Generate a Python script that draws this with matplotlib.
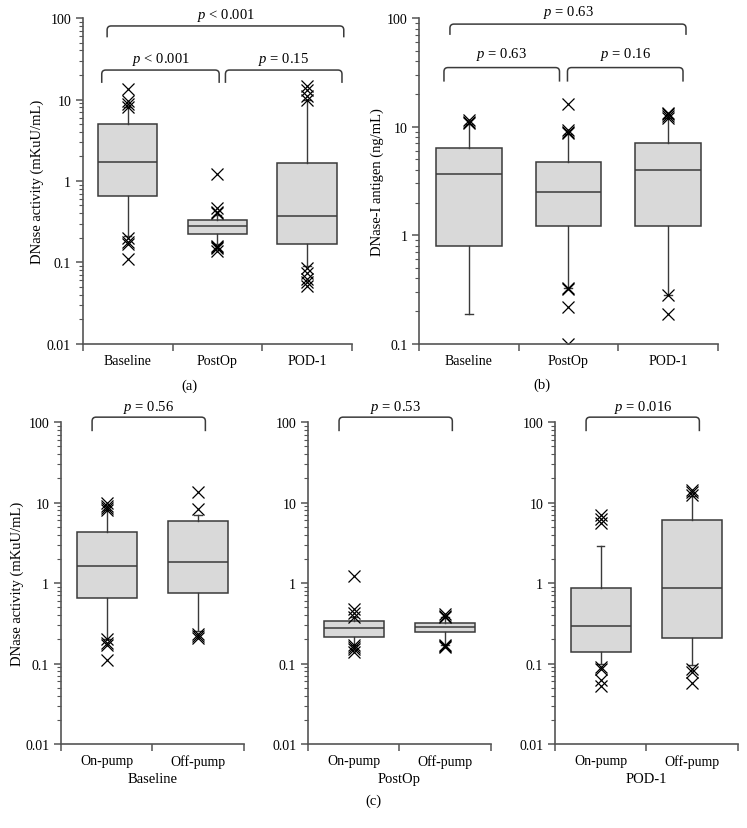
import numpy as np
import matplotlib
matplotlib.use("Agg")
import matplotlib.pyplot as plt
from matplotlib.path import Path
from matplotlib.patches import PathPatch

plt.rcParams["font.family"] = ["Liberation Serif", "DejaVu Serif"]
plt.rcParams["mathtext.fontset"] = "custom"
plt.rcParams["mathtext.rm"] = "Liberation Serif"
plt.rcParams["mathtext.it"] = "Liberation Serif:italic"

# ---- data ----
groups_ab = ["Baseline", "PostOp", "POD-1"]
groups_c = ["On-pump", "Off-pump"]

# (a) DNase activity (mKuU/mL)
a_q1 = [0.66, 0.225, 0.167]
a_med = [1.70, 0.278, 0.37]
a_q3 = [4.96, 0.33, 1.65]
a_lo = [0.21, 0.17, 0.09]
a_hi = [8.0, 0.38, 10.0]
a_fliers = [
    [13.4, 9.5, 8.8, 8.2, 0.20, 0.18, 0.17, 0.11],
    [1.22, 0.46, 0.42, 0.40, 0.16, 0.155, 0.15, 0.14],
    [14.5, 13.0, 11.0, 10.0, 0.085, 0.075, 0.062, 0.057, 0.052],
]

# (b) DNase-I antigen (ng/mL)
b_q1 = [0.80, 1.23, 1.21]
b_med = [3.7, 2.5, 4.0]
b_q3 = [6.3, 4.7, 7.1]
b_lo = [0.19, 0.33, 0.28]
b_hi = [10.5, 8.5, 12.0]
b_fliers = [
    [11.5, 11.0, 10.8],
    [16.2, 9.3, 9.0, 8.8, 0.33, 0.32, 0.22, 0.10],
    [13.5, 13.0, 12.5, 12.0, 0.28, 0.19],
]

# (c) DNase activity by pump type, per time point
c_titles = ["Baseline", "PostOp", "POD-1"]
c_q1 = [[0.65, 0.75], [0.211, 0.245], [0.138, 0.206]]
c_med = [[1.64, 1.84], [0.279, 0.288], [0.295, 0.875]]
c_q3 = [[4.34, 5.9], [0.337, 0.32], [0.875, 6.0]]
c_lo = [[0.20, 0.25], [0.17, 0.17], [0.10, 0.095]]
c_hi = [[8.0, 7.0], [0.38, 0.38], [2.9, 12.0]]
c_fliers = [
    [[9.8, 9.0, 8.5, 8.0, 0.20, 0.18, 0.17, 0.11], [13.5, 8.2, 0.23, 0.22, 0.21]],
    [[1.22, 0.47, 0.42, 0.38, 0.17, 0.16, 0.15, 0.14], [0.41, 0.39, 0.38, 0.17, 0.165, 0.16]],
    [[7.0, 6.3, 5.5, 0.09, 0.085, 0.063, 0.052], [14.5, 13.5, 12.5, 0.085, 0.078, 0.058]],
]
c_pvals = ["$p$ = 0.56", "$p$ = 0.53", "$p$ = 0.016"]

# brackets: (x0, x1, y_top, y_leg, text, y_text)
a_brackets = [(-0.23, 2.41, 80, 58, "$p$ < 0.001", 110),
              (-0.29, 1.02, 23, 16, "$p$ < 0.001", 32),
              (1.09, 2.39, 23, 16, "$p$ = 0.15", 32)]
b_brackets = [(-0.19, 2.18, 88, 70, "$p$ = 0.63", 115),
              (-0.25, 0.91, 35, 26, "$p$ = 0.63", 47),
              (0.99, 2.15, 35, 26, "$p$ = 0.16", 47)]

EDGE = "#3a3a3a"
FACE = "#d9d9d9"
SPINE = "#555555"


def stats(q1, med, q3, lo, hi, fliers, labels):
    return [dict(q1=a, med=m, q3=b, whislo=l, whishi=h, fliers=f, label=n)
            for a, m, b, l, h, f, n in zip(q1, med, q3, lo, hi, fliers, labels)]


def draw_box(ax, st, ylim):
    n = len(st)
    ax.bxp(st, positions=range(n), widths=0.66, capwidths=0.08, patch_artist=True,
           boxprops=dict(facecolor=FACE, edgecolor=EDGE, linewidth=1.1),
           medianprops=dict(color=EDGE, linewidth=1.1),
           whiskerprops=dict(color=EDGE, linewidth=1.0),
           capprops=dict(color=EDGE, linewidth=1.0),
           flierprops=dict(marker="x", markeredgecolor="black", markersize=8,
                           markeredgewidth=0.9, linestyle="none"),
           manage_ticks=False)
    ax.set_yscale("log")
    ax.set_ylim(*ylim)
    ax.set_xlim(-0.5, n - 0.5)
    for s in ("top", "right"):
        ax.spines[s].set_visible(False)
    for s in ("left", "bottom"):
        ax.spines[s].set_color(SPINE)
        ax.spines[s].set_linewidth(1.2)
    ax.set_xticks(np.arange(n + 1) - 0.5)
    ax.set_xticklabels([])
    ax.set_xticks(range(n), minor=True)
    ax.set_xticklabels([s["label"] for s in st], minor=True, fontsize=10)
    ax.tick_params(axis="x", which="major", length=5, width=1.1, color=SPINE)
    ax.tick_params(axis="x", which="minor", length=0, pad=7)
    ax.yaxis.set_major_formatter(matplotlib.ticker.FuncFormatter(lambda v, _: f"{v:g}"))
    ax.yaxis.set_minor_formatter(matplotlib.ticker.NullFormatter())
    ax.tick_params(axis="y", which="major", length=5, width=1.1, color=SPINE, labelsize=10)
    ax.tick_params(axis="y", which="minor", length=3, width=0.8, color=SPINE)


def bracket(ax, x0, x1, ytop, yleg, text, ytext, ylim, n):
    fig = ax.figure
    lo, hi = np.log10(ylim[0]), np.log10(ylim[1])
    bb = ax.get_window_extent()
    to_px = lambda x, y: (bb.x0 + (x + 0.5) / n * bb.width,
                          bb.y0 + (np.log10(y) - lo) / (hi - lo) * bb.height)
    xa, ya = to_px(x0, yleg)
    xb, yt = to_px(x1, ytop)
    r = 4.0
    verts = [(xa, ya), (xa, yt - r), (xa, yt), (xa + r, yt),
             (xb - r, yt), (xb, yt), (xb, yt - r), (xb, ya)]
    codes = [Path.MOVETO, Path.LINETO, Path.CURVE3, Path.CURVE3,
             Path.LINETO, Path.CURVE3, Path.CURVE3, Path.LINETO]
    fig.patches.append(PathPatch(Path(verts, codes), transform=None, fill=False,
                                 edgecolor=EDGE, linewidth=1.1))
    ax.text((x0 + x1) / 2, ytext, text, ha="center", va="center", fontsize=10.5,
            clip_on=False)


fig = plt.figure(figsize=(7.47, 8.29), dpi=100)

ax_a = fig.add_axes([0.111, 0.584, 0.360, 0.393])
ylim_a = (0.01, 100)
draw_box(ax_a, stats(a_q1, a_med, a_q3, a_lo, a_hi, a_fliers, groups_ab), ylim_a)
ax_a.set_ylabel("DNase activity (mKuU/mL)", fontsize=10.5, labelpad=2)

ax_b = fig.add_axes([0.561, 0.584, 0.400, 0.393])
ylim_b = (0.1, 100)
draw_box(ax_b, stats(b_q1, b_med, b_q3, b_lo, b_hi, b_fliers, groups_ab), ylim_b)
ax_b.set_ylabel("DNase-I antigen (ng/mL)", fontsize=10.5, labelpad=2)

c_left = [0.0817, 0.4123, 0.743]
axes_c = []
for i, left in enumerate(c_left):
    ax = fig.add_axes([left, 0.1013, 0.2446, 0.3884])
    draw_box(ax, stats(c_q1[i], c_med[i], c_q3[i], c_lo[i], c_hi[i], c_fliers[i], groups_c),
             ylim_a)
    ax.set_xlabel(c_titles[i], fontsize=10.5, labelpad=3)
    axes_c.append(ax)
axes_c[0].set_ylabel("DNase activity (mKuU/mL)", fontsize=10.5, labelpad=1)

fig.canvas.draw()
for br in a_brackets:
    bracket(ax_a, *br, ylim_a, 3)
for br in b_brackets:
    bracket(ax_b, *br, ylim_b, 3)
for ax, p in zip(axes_c, c_pvals):
    bracket(ax, -0.16, 1.08, 115, 77, p, 158, ylim_a, 2)

fig.text(0.254, 0.534, "(a)", ha="center", va="center", fontsize=10.5)
fig.text(0.726, 0.535, "(b)", ha="center", va="center", fontsize=10.5)
fig.text(0.4995, 0.034, "(c)", ha="center", va="center", fontsize=10.5)

fig.savefig("out.png", dpi=100)
